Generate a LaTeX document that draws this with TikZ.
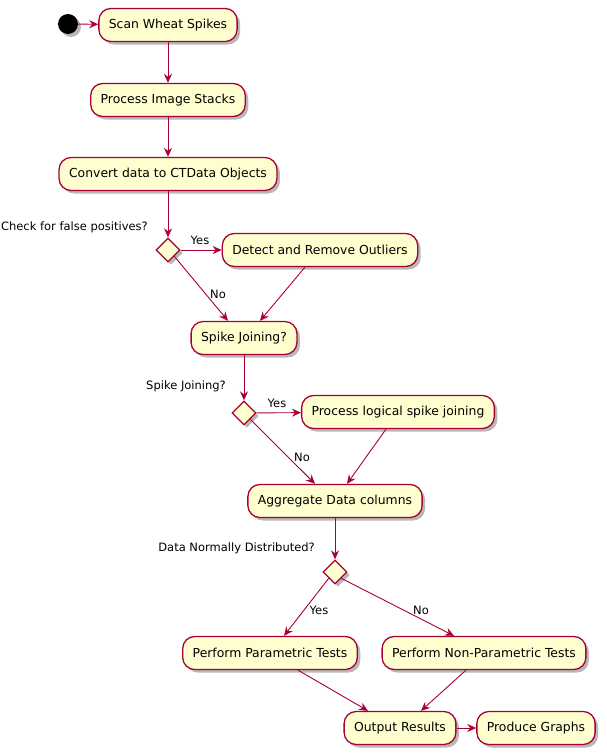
\documentclass[tikz,border=0pt]{standalone}
\usepackage{fontspec}
\setmainfont{DejaVu Sans}
\usetikzlibrary{shapes.geometric,arrows.meta,shadows,calc}
\definecolor{actfill}{HTML}{FEFECE}
\definecolor{actline}{HTML}{A80036}
\begin{document}
\begin{tikzpicture}[x=1pt,y=-1pt,
  shade/.style={drop shadow={shadow xshift=3pt,shadow yshift=-3pt,fill=black,opacity=0.28}},
  act/.style={shade,draw=actline,line width=1.3pt,fill=actfill,rounded corners=12pt,
    minimum height=33pt,inner xsep=10pt,font=\fontsize{12.4}{14}\selectfont},
  cond/.style={shade,diamond,aspect=1,draw=actline,line width=1.3pt,fill=actfill,
    minimum width=24pt,minimum height=24pt,inner sep=0pt},
  flow/.style={draw=actline,line width=0.9pt,-{Stealth[length=9pt,width=8pt,inset=3pt]}},
  lbl/.style={font=\fontsize{11.5}{13}\selectfont,inner sep=0pt},
  qlbl/.style={font=\fontsize{11.5}{13}\selectfont,inner sep=0pt,anchor=east}]
\useasboundingbox (0,0) rectangle (607,755);

% start point
\node[shade,circle,fill=black,minimum size=20pt,inner sep=0pt] (start) at (68,24) {};

% actions
\node[act] (scan) at (168,25) {Scan Wheat Spikes};
\node[act] (proc) at (168,100) {Process Image Stacks};
\node[act] (conv) at (168,174) {Convert data to CTData Objects};
\node[cond] (d1) at (168,250) {};
\node[qlbl] (q1) at (148,227) {Check for false positives?};
\node[act] (outl) at (320,250) {Detect and Remove Outliers};
\node[act] (sj) at (244,338) {Spike Joining?};
\node[cond] (d2) at (244,413) {};
\node[qlbl] (q2) at (226,386) {Spike Joining?};
\node[act] (logic) at (398,412) {Process logical spike joining};
\node[act] (agg) at (335,501) {Aggregate Data columns};
\node[cond] (d3) at (335,572) {};
\node[qlbl] (q3) at (315,548) {Data Normally Distributed?};
\node[act] (par) at (270,653) {Perform Parametric Tests};
\node[act] (npar) at (484,653) {Perform Non-Parametric Tests};
\node[act] (out) at (400,728) {Output Results};
\node[act] (graph) at (536,728) {Produce Graphs};

% connectors
\draw[flow] (start) -- (scan);
\draw[flow] (scan) -- (proc);
\draw[flow] (proc) -- (conv);
\draw[flow] (conv) -- (d1);
\draw[flow] (d1) -- (outl);
\draw[flow] (d1.south east) -- ($(sj.north)+(-16,0)$);
\draw[flow] ($(outl.south)+(-15,0)$) -- ($(sj.north)+(16,0)$);
\draw[flow] (sj) -- (d2);
\draw[flow] (d2) -- (logic);
\draw[flow] (d2.south east) -- ($(agg.north)+(-20,0)$);
\draw[flow] ($(logic.south)+(-12,0)$) -- ($(agg.north)+(12,0)$);
\draw[flow] (agg) -- (d3);
\draw[flow] (d3.south west) -- ($(par.north)+(14,0)$);
\draw[flow] (d3.south east) -- ($(npar.north)+(-30,0)$);
\draw[flow] ($(par.south)+(28,0)$) -- ($(out.north)+(-32,0)$);
\draw[flow] ($(npar.south)+(-18,0)$) -- ($(out.north)+(21,0)$);
\draw[flow] (out) -- (graph);

% branch labels
\node[lbl] (y1) at (200,240) {Yes};
\node[lbl] (n1) at (218,294) {No};
\node[lbl] (y2) at (277,403) {Yes};
\node[lbl] (n2) at (302,457) {No};
\node[lbl] (y3) at (319,610) {Yes};
\node[lbl] (n3) at (421,610) {No};
\end{tikzpicture}
\end{document}
